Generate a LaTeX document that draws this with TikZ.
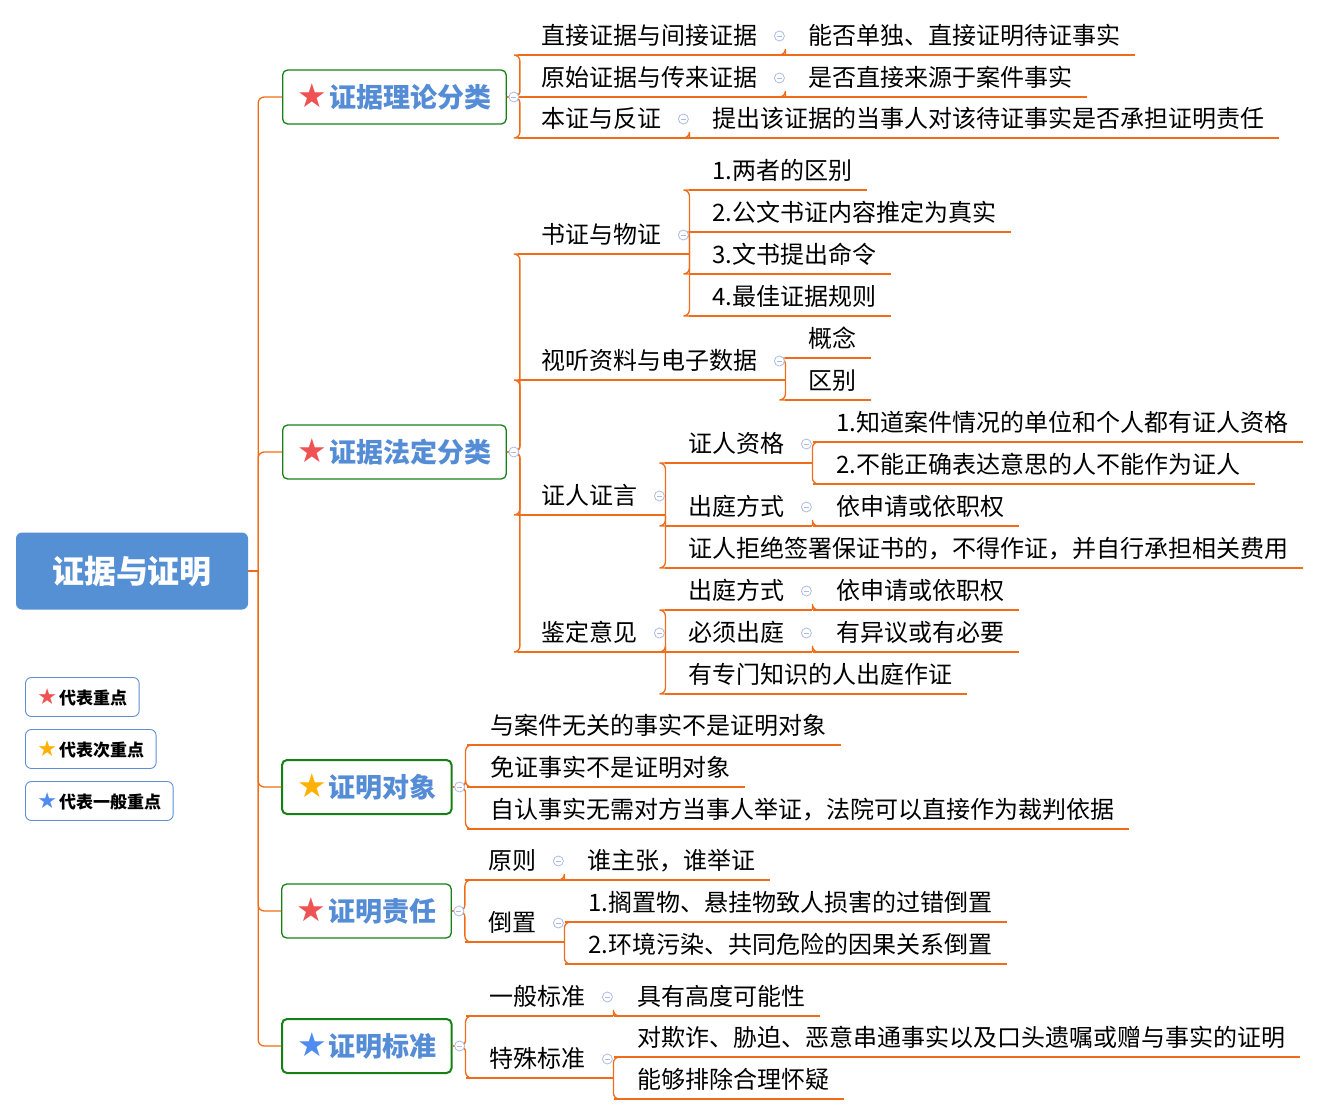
\documentclass[tikz,border=0pt]{standalone}
\usepackage{fontspec}
\setmainfont{Noto Sans CJK SC}
\newfontfamily\symfont{DejaVu Sans}
\usetikzlibrary{positioning}

\definecolor{linkc}{RGB}{240,108,24}
\definecolor{boxc}{RGB}{22,128,22}
\definecolor{titlec}{RGB}{84,140,214}
\definecolor{rootc}{RGB}{85,143,212}
\definecolor{keyc}{RGB}{92,142,212}
\definecolor{foldc}{RGB}{172,186,228}
\definecolor{starred}{RGB}{238,82,82}
\definecolor{starorange}{RGB}{255,176,0}
\definecolor{starblue}{RGB}{78,140,240}

\newcommand{\keystar}[2]{{\symfont\fontsize{#2}{#2}\selectfont\color{#1}★}\hspace{2pt}}

\tikzset{
    root/.style={fill=rootc, rounded corners=6pt, minimum width=232pt,
        minimum height=77pt, text=white, font=\bfseries\fontsize{32}{32}\selectfont},
    branch/.style={draw=boxc, line width=1.3pt, rounded corners=5pt, fill=white,
        anchor=west, minimum height=54pt, inner xsep=15pt, text=titlec,
        font=\bfseries\fontsize{27}{27}\selectfont},
    thick box/.style={line width=2pt},
    topic/.style={anchor=south west, inner sep=0pt, text depth=10pt,
        font=\fontsize{24}{24}\selectfont},
    legend/.style={draw=keyc, line width=0.9pt, rounded corners=6pt, anchor=west,
        minimum height=39pt, inner xsep=12pt, font=\bfseries\fontsize{17}{17}\selectfont},
    fold/.style={circle, draw=foldc, fill=white, line width=0.8pt,
        minimum size=10pt, inner sep=0pt,
        path picture={\draw[foldc, line width=0.8pt]
            ([xshift=-2.5pt]path picture bounding box.center) --
            ([xshift=2.5pt]path picture bounding box.center);}},
}

\begin{document}
\begin{tikzpicture}[
    x=1pt, y=-1pt,
    link/.style={draw=linkc, line width=1.3pt},
    elbow/.style={link, rounded corners=6pt},
]
\useasboundingbox (0,0) rectangle (1320,1115);

% root and main branches
\node[root] (zhengju) at (132,571) {证据与证明};
\node[branch]            (lilun)    at (282,97)   {\keystar{starred}{33}证据理论分类};
\node[branch]            (fading)   at (282,452)  {\keystar{starred}{33}证据法定分类};
\node[branch, thick box] (duixiang) at (281,787)  {\keystar{starorange}{33}证明对象};
\node[branch]            (zeren)    at (281,911)  {\keystar{starred}{33}证明责任};
\node[branch, thick box] (biaozhun) at (281,1046) {\keystar{starblue}{33}证明标准};

% legend
\node[legend] (key1) at (25,697) {\keystar{starred}{22}代表重点};
\node[legend] (key2) at (25,749) {\keystar{starorange}{22}代表次重点};
\node[legend] (key3) at (25,801) {\keystar{starblue}{22}代表一般重点};

% 证据理论分类
\node[topic] (lilun1)  at (541,55)  {直接证据与间接证据};
\node[topic] (lilun1a) at (808,55)  {能否单独、直接证明待证事实};
\node[topic] (lilun2)  at (541,97)  {原始证据与传来证据};
\node[topic] (lilun2a) at (808,97)  {是否直接来源于案件事实};
\node[topic] (lilun3)  at (541,138) {本证与反证};
\node[topic] (lilun3a) at (712,138) {提出该证据的当事人对该待证事实是否承担证明责任};

% 证据法定分类
\node[topic] (fading1)  at (541,254) {书证与物证};
\node[topic] (fading1a) at (712,190) {1.两者的区别};
\node[topic] (fading1b) at (712,232) {2.公文书证内容推定为真实};
\node[topic] (fading1c) at (712,274) {3.文书提出命令};
\node[topic] (fading1d) at (712,316) {4.最佳证据规则};
\node[topic] (fading2)  at (541,380) {视听资料与电子数据};
\node[topic] (fading2a) at (808,358) {概念};
\node[topic] (fading2b) at (808,400) {区别};
\node[topic] (fading3)  at (541,515) {证人证言};
\node[topic] (zige)     at (688,463) {证人资格};
\node[topic] (zige1)    at (836,442) {1.知道案件情况的单位和个人都有证人资格};
\node[topic] (zige2)    at (836,484) {2.不能正确表达意思的人不能作为证人};
\node[topic] (chuting)  at (688,526) {出庭方式};
\node[topic] (chuting1) at (836,526) {依申请或依职权};
\node[topic] (jujue)    at (688,568) {证人拒绝签署保证书的，不得作证，并自行承担相关费用};
\node[topic] (fading4)  at (541,652) {鉴定意见};
\node[topic] (jdchuting)  at (688,610) {出庭方式};
\node[topic] (jdchuting1) at (836,610) {依申请或依职权};
\node[topic] (bixu)     at (688,652) {必须出庭};
\node[topic] (bixu1)    at (836,652) {有异议或有必要};
\node[topic] (zhuanjia) at (688,694) {有专门知识的人出庭作证};

% 证明对象
\node[topic] (duixiang1) at (490,745) {与案件无关的事实不是证明对象};
\node[topic] (duixiang2) at (490,787) {免证事实不是证明对象};
\node[topic] (duixiang3) at (490,829) {自认事实无需对方当事人举证，法院可以直接作为裁判依据};

% 证明责任
\node[topic] (zeren1)  at (488,880) {原则};
\node[topic] (zeren1a) at (587,880) {谁主张，谁举证};
\node[topic] (zeren2)  at (488,942) {倒置};
\node[topic] (zeren2a) at (588,922) {1.搁置物、悬挂物致人损害的过错倒置};
\node[topic] (zeren2b) at (588,964) {2.环境污染、共同危险的因果关系倒置};

% 证明标准
\node[topic] (biaozhun1)  at (489,1016) {一般标准};
\node[topic] (biaozhun1a) at (637,1016) {具有高度可能性};
\node[topic] (biaozhun2)  at (489,1078) {特殊标准};
\node[topic] (biaozhun2a) at (637,1057) {对欺诈、胁迫、恶意串通事实以及口头遗嘱或赠与事实的证明};
\node[topic] (biaozhun2b) at (637,1099) {能够排除合理怀疑};

% trunk
\coordinate (trunk) at ([xshift=10pt]zhengju.east);
\draw[link] (zhengju.east) -- (trunk);
\foreach \b in {lilun, fading, duixiang, zeren, biaozhun}
    \draw[elbow] (trunk) |- (\b.west);

% branch -> topics
\foreach \b/\c in {lilun/lilun1, lilun/lilun2, lilun/lilun3,
        fading/fading1, fading/fading2, fading/fading3, fading/fading4,
        duixiang/duixiang1, duixiang/duixiang2, duixiang/duixiang3,
        zeren/zeren1, zeren/zeren2, biaozhun/biaozhun1, biaozhun/biaozhun2}
    \draw[elbow] (\b.east) -- ++(13,0) |- ([xshift=-23pt]\c.south west);

% topic -> subtopics
\foreach \p/\c in {lilun1/lilun1a, lilun2/lilun2a, lilun3/lilun3a,
        fading1/fading1a, fading1/fading1b, fading1/fading1c, fading1/fading1d,
        fading2/fading2a, fading2/fading2b,
        fading3/zige, fading3/chuting, fading3/jujue,
        zige/zige1, zige/zige2, chuting/chuting1,
        fading4/jdchuting, fading4/bixu, fading4/zhuanjia,
        jdchuting/jdchuting1, bixu/bixu1,
        zeren1/zeren1a, zeren2/zeren2a, zeren2/zeren2b,
        biaozhun1/biaozhun1a, biaozhun2/biaozhun2a, biaozhun2/biaozhun2b}
    \draw[elbow] ([xshift=28pt]\p.south east) |- ([xshift=-23pt]\c.south west);

% underlines
\foreach \n in {lilun1, lilun2, lilun3, fading1, fading2, fading3, fading4,
        zige, chuting, jdchuting, bixu, zeren1, zeren2, biaozhun1, biaozhun2}
    \draw[link, shorten <=-23pt, shorten >=-28pt] (\n.south west) -- (\n.south east);
\foreach \n in {lilun1a, lilun2a, lilun3a, fading1a, fading1b, fading1c, fading1d,
        fading2a, fading2b, zige1, zige2, chuting1, jujue, jdchuting1, bixu1,
        zhuanjia, duixiang1, duixiang2, duixiang3, zeren1a, zeren2a, zeren2b,
        biaozhun1a, biaozhun2a, biaozhun2b}
    \draw[link, shorten <=-23pt, shorten >=-15pt] (\n.south west) -- (\n.south east);

% fold marks
\foreach \b in {lilun, fading, duixiang, zeren, biaozhun}
    \node[fold] at ([xshift=7pt]\b.east) {};
\foreach \p in {lilun1, lilun2, lilun3, fading1, fading2, fading3, fading4,
        zige, chuting, jdchuting, bixu, zeren1, zeren2, biaozhun1, biaozhun2}
    \node[fold] at ([xshift=22pt, yshift=19pt]\p.south east) {};
\end{tikzpicture}
\end{document}
